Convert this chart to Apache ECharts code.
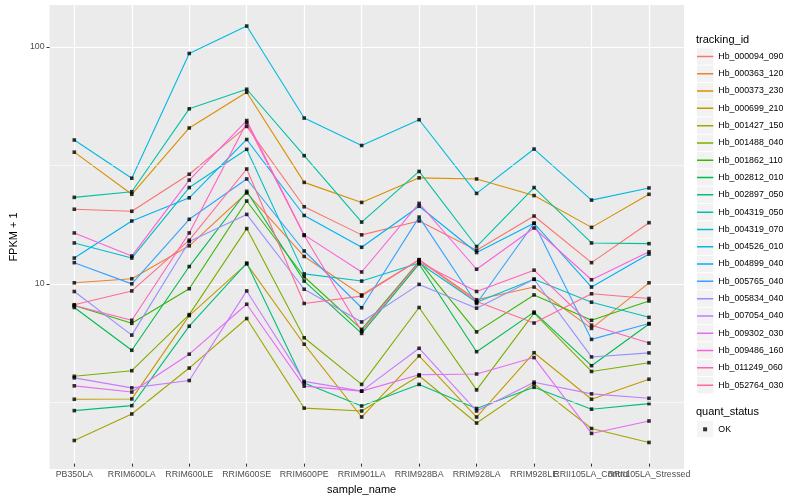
<!DOCTYPE html>
<html><head><meta charset="utf-8">
<script src="https://cdn.jsdelivr.net/npm/echarts@6/dist/echarts.min.js"></script>
<style>html,body{margin:0;padding:0;background:#fff}#c{width:800px;height:500px}</style>
</head><body><div id="c"></div>
<script>
const categories = ['PB350LA','RRIM600LA','RRIM600LE','RRIM600SE','RRIM600PE','RRIM901LA','RRIM928BA','RRIM928LA','RRIM928LE','RRII105LA_Control','RRII105LA_Stressed'];
const seriesNames = ['Hb_000094_090','Hb_000363_120','Hb_000373_230','Hb_000699_210','Hb_001427_150','Hb_001488_040','Hb_001862_110','Hb_002812_010','Hb_002897_050','Hb_004319_050','Hb_004319_070','Hb_004526_010','Hb_004899_040','Hb_005765_040','Hb_005834_040','Hb_007054_040','Hb_009302_030','Hb_009486_160','Hb_011249_060','Hb_052764_030'];
const seriesColors = ['#F8766D','#EA8331','#D89000','#C09B00','#A3A500','#7CAE00','#39B600','#00BB4E','#00BF7D','#00C1A3','#00BFC4','#00BAE0','#00B0F6','#35A2FF','#9590FF','#C77CFF','#E76BF3','#FA62DB','#FF62BC','#FF6C91'];

const hb_000094_090 = [20.2, 19.8, 28.5, 45.6, 20.7, 15.7, 18.0, 13.5, 18.9, 11.95, 17.7];
const hb_000363_120 = [9.8, 10.2, 14.1, 23.7, 12.7, 8.7, 12.3, 8.3, 9.4, 6.26, 9.8];
const hb_000373_230 = [35.4, 23.4, 44.9, 63.8, 26.3, 21.6, 27.5, 27.2, 23.1, 16.9, 23.4];
const hb_000699_210 = [3.12, 3.13, 7.1, 11.8, 5.36, 2.62, 4.78, 2.62, 4.93, 3.12, 3.80];
const hb_001427_150 = [2.08, 2.70, 4.24, 6.9, 2.86, 2.78, 3.93, 2.47, 3.63, 2.34, 2.04];
const hb_001488_040 = [3.91, 4.13, 7.17, 16.7, 5.71, 3.61, 7.69, 3.42, 7.28, 4.10, 4.47];
const hb_001862_110 = [7.84, 6.58, 9.25, 21.9, 10.4, 6.2, 12.1, 6.05, 8.7, 6.78, 8.2];
const hb_002812_010 = [7.69, 5.05, 11.5, 24.1, 9.97, 5.96, 11.8, 4.98, 7.35, 4.34, 6.54];
const hb_002897_050 = [2.79, 2.93, 6.4, 11.9, 3.66, 2.92, 3.61, 2.85, 3.51, 2.83, 2.99];
const hb_004319_050 = [22.7, 24.0, 54.2, 65.7, 34.2, 17.8, 29.3, 14.0, 25.0, 14.5, 14.4];
const hb_004319_070 = [14.5, 12.5, 25.0, 36.4, 10.7, 9.97, 11.9, 8.1, 10.15, 8.1, 6.98];
const hb_004526_010 = [39.9, 27.4, 93.4, 122.3, 49.5, 37.8, 48.7, 23.6, 36.5, 22.1, 24.9];
const hb_004899_040 = [12.5, 18.0, 22.6, 40.1, 19.0, 13.9, 20.8, 13.2, 17.6, 9.4, 13.0];
const hb_005765_040 = [11.95, 9.7, 18.3, 27.2, 13.4, 7.67, 18.7, 8.0, 17.6, 5.62, 6.57];
const hb_005834_040 = [9.0, 5.86, 14.7, 19.2, 9.2, 6.67, 9.65, 7.64, 10.15, 4.73, 4.92];
const hb_007054_040 = [3.85, 3.49, 3.75, 9.05, 3.72, 3.38, 5.15, 2.78, 3.69, 3.29, 3.15];
const hb_009302_030 = [3.56, 3.35, 4.86, 7.94, 3.55, 3.38, 3.97, 4.0, 4.70, 2.23, 2.52];
const hb_009486_160 = [16.0, 12.75, 26.9, 48.3, 15.7, 10.9, 21.4, 11.2, 16.8, 10.1, 13.3];
const hb_011249_060 = [7.84, 6.78, 16.0, 47.3, 15.6, 6.09, 12.0, 9.0, 11.1, 6.46, 5.42];
const hb_052764_030 = [7.9, 9.05, 14.9, 30.0, 8.0, 8.6, 12.3, 8.15, 6.6, 8.8, 8.4];

const seriesValues = [hb_000094_090, hb_000363_120, hb_000373_230, hb_000699_210, hb_001427_150, hb_001488_040, hb_001862_110, hb_002812_010, hb_002897_050, hb_004319_050, hb_004319_070, hb_004526_010, hb_004899_040, hb_005765_040, hb_005834_040, hb_007054_040, hb_009302_030, hb_009486_160, hb_011249_060, hb_052764_030];

const yMin = 1.6576;
const yMax = 150.4;
const yTickValues = [10, 100];
const yMinorGrid = [3.1623, 31.623];
const statusNames = ['OK'];

const font = '"Liberation Sans", Arial, Helvetica, sans-serif';
const chart = echarts.init(document.getElementById('c'));

const lineSeries = seriesNames.map((n, k) => ({
  name: n, type: 'line', xAxisIndex: 1, yAxisIndex: 1,
  data: seriesValues[k], symbol: 'none', showSymbol: false, silent: true,
  lineStyle: { color: seriesColors[k], width: 1.1 },
  itemStyle: { color: seriesColors[k] }, z: 3
}));
const pointData = [];
seriesValues.forEach(arr => arr.forEach((v, i) => pointData.push([categories[i], v])));
const pointSeries = {
  name: statusNames[0], type: 'scatter', xAxisIndex: 1, yAxisIndex: 1,
  data: pointData, symbol: 'rect', symbolSize: 3.6, silent: true,
  itemStyle: { color: '#000' }, z: 4
};
const gridSeries = {
  name: '_grid', type: 'line', xAxisIndex: 0, yAxisIndex: 0, data: [], silent: true,
  markLine: { silent: true, symbol: 'none', animation: false, label: { show: false },
    lineStyle: { color: '#ffffff', width: 0.6, type: 'solid' },
    data: yMinorGrid.map(v => ({ yAxis: v })) }
};

// key icon: a horizontal bar inside a full-size (invisible) box
const keyLineIcon = 'path://M0,0L0,0ZM16.3,16.3L16.3,16.3ZM0,7.4L16.3,7.4L16.3,8.9L0,8.9Z';
const legendCommon = { orient: 'vertical', left: 697, top: 48.3, itemWidth: 16.3, itemHeight: 16.3, itemGap: 1, selectedMode: false, padding: 0 };

chart.setOption({
  animation: false,
  backgroundColor: '#ffffff',
  title: [
    { text: 'tracking_id', left: 696, top: 34, padding: 0, textStyle: { fontSize: 11, fontWeight: 'normal', color: '#000', fontFamily: font } },
    { text: 'quant_status', left: 696, top: 406, padding: 0, textStyle: { fontSize: 11, fontWeight: 'normal', color: '#000', fontFamily: font } }
  ],
  grid: [
    { left: 40, right: 116, top: 5, bottom: 31, show: true, backgroundColor: '#EBEBEB', borderWidth: 0 },
    { left: 74.3, right: 151, top: 5, bottom: 31, show: false }
  ],
  xAxis: [
    { gridIndex: 0, type: 'value', min: 0, max: 1, show: false },
    { gridIndex: 1, type: 'category', data: categories, boundaryGap: false,
      axisLine: { show: false },
      axisTick: { show: true, length: 3, lineStyle: { color: '#333333', width: 1 } },
      axisLabel: { interval: 0, fontSize: 8.8, color: '#4D4D4D', margin: 6.5, fontFamily: font, hideOverlap: false },
      splitLine: { show: true, lineStyle: { color: '#ffffff', width: 1.2 } },
      name: 'sample_name', nameLocation: 'middle', nameGap: 14,
      nameTextStyle: { fontSize: 11, color: '#000', fontFamily: font } }
  ],
  yAxis: [
    { gridIndex: 0, type: 'log', logBase: 10, min: yMin, max: yMax,
      axisLine: { show: false },
      axisTick: { show: true, length: 3, customValues: yTickValues, lineStyle: { color: '#333333', width: 1 } },
      axisLabel: { customValues: yTickValues, fontSize: 8.8, color: '#4D4D4D', margin: 5, fontFamily: font },
      splitLine: { show: true, lineStyle: { color: '#ffffff', width: 1.2 } },
      name: 'FPKM + 1', nameLocation: 'middle', nameGap: 22, nameRotate: 90,
      nameTextStyle: { fontSize: 11, color: '#000', fontFamily: font } },
    { gridIndex: 1, type: 'log', logBase: 10, min: yMin, max: yMax, show: false }
  ],
  legend: [
    Object.assign({}, legendCommon, { data: seriesNames, icon: 'rect', z: 4,
      itemStyle: { color: '#F2F2F2', borderWidth: 0 }, textStyle: { fontSize: 8.8, color: '#000', fontFamily: font } }),
    Object.assign({}, legendCommon, { data: seriesNames, icon: keyLineIcon, z: 5,
      itemStyle: { borderWidth: 0 }, formatter: () => '', textStyle: { fontSize: 1, color: 'rgba(0,0,0,0)' } }),
    Object.assign({}, legendCommon, { data: statusNames, top: 421, icon: 'rect', z: 4,
      itemStyle: { color: '#F2F2F2', borderWidth: 0 }, textStyle: { fontSize: 8.8, color: '#000', fontFamily: font } }),
    Object.assign({}, legendCommon, { data: statusNames, top: 427.3, left: 703.1, itemWidth: 4, itemHeight: 4, icon: 'rect', z: 5,
      itemStyle: { color: '#000', borderWidth: 0 }, formatter: () => '', textStyle: { fontSize: 1, color: 'rgba(0,0,0,0)' } })
  ],
  series: [gridSeries].concat(lineSeries, [pointSeries])
});
</script>
</body></html>
